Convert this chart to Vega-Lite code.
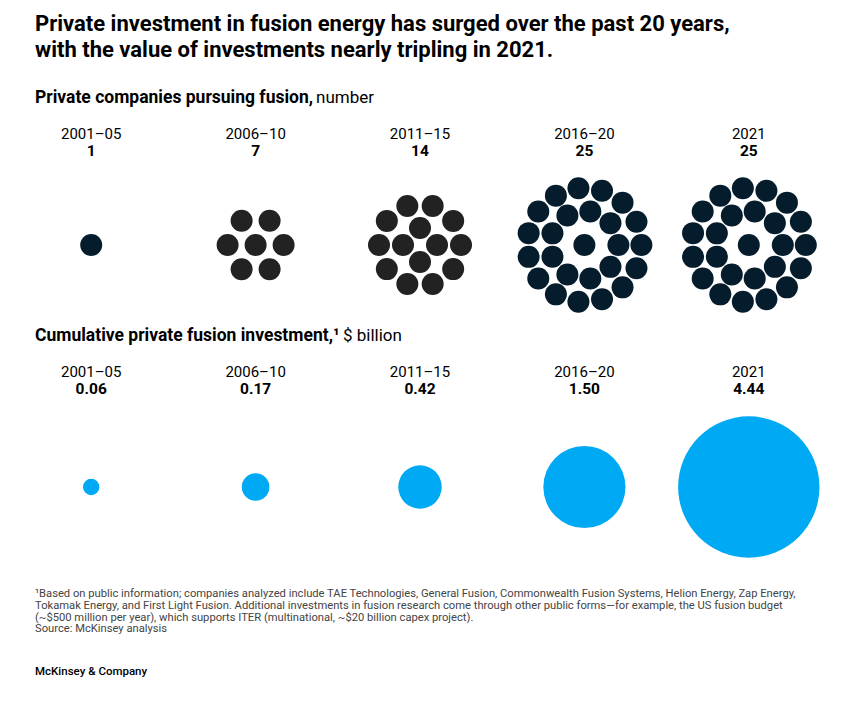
{
  "$schema": "https://vega.github.io/schema/vega-lite/v6.json",
  "background": "white",
  "padding": {"left": 9, "top": 13, "right": 0, "bottom": 0},
  "spacing": 0,
  "config": {"view": {"stroke": null}, "font": "Roboto", "concat": {"spacing": 0}},
  "title": {
    "text": ["Private investment in fusion energy has surged over the past 20 years,", "with the value of investments nearly tripling in 2021."],
    "anchor": "start", "dx": 26, "font": "Roboto", "fontSize": 22, "fontWeight": "bold", "lineHeight": 26, "color": "#000000", "offset": 19
  },
  "datasets": {
    "periods": [
      {"period": "2001–05", "companies": 1, "investment": 0.06},
      {"period": "2006–10", "companies": 7, "investment": 0.17},
      {"period": "2011–15", "companies": 14, "investment": 0.42},
      {"period": "2016–20", "companies": 25, "investment": 1.50},
      {"period": "2021", "companies": 25, "investment": 4.44}
    ],
    "dots": [
      {"period": "2001–05", "ring": 0, "slot": 0},
      {"period": "2006–10", "ring": 0, "slot": 0},
      {"period": "2006–10", "ring": 1, "slot": 0},
      {"period": "2006–10", "ring": 1, "slot": 1},
      {"period": "2006–10", "ring": 1, "slot": 2},
      {"period": "2006–10", "ring": 1, "slot": 3},
      {"period": "2006–10", "ring": 1, "slot": 4},
      {"period": "2006–10", "ring": 1, "slot": 5},
      {"period": "2011–15", "ring": 1, "slot": 0},
      {"period": "2011–15", "ring": 1, "slot": 1},
      {"period": "2011–15", "ring": 1, "slot": 2},
      {"period": "2011–15", "ring": 1, "slot": 3},
      {"period": "2011–15", "ring": 2, "slot": 0},
      {"period": "2011–15", "ring": 2, "slot": 1},
      {"period": "2011–15", "ring": 2, "slot": 2},
      {"period": "2011–15", "ring": 2, "slot": 3},
      {"period": "2011–15", "ring": 2, "slot": 4},
      {"period": "2011–15", "ring": 2, "slot": 5},
      {"period": "2011–15", "ring": 2, "slot": 6},
      {"period": "2011–15", "ring": 2, "slot": 7},
      {"period": "2011–15", "ring": 2, "slot": 8},
      {"period": "2011–15", "ring": 2, "slot": 9},
      {"period": "2016–20", "ring": 0, "slot": 0},
      {"period": "2016–20", "ring": 1, "slot": 0},
      {"period": "2016–20", "ring": 1, "slot": 1},
      {"period": "2016–20", "ring": 1, "slot": 2},
      {"period": "2016–20", "ring": 1, "slot": 3},
      {"period": "2016–20", "ring": 1, "slot": 4},
      {"period": "2016–20", "ring": 1, "slot": 5},
      {"period": "2016–20", "ring": 1, "slot": 6},
      {"period": "2016–20", "ring": 1, "slot": 7},
      {"period": "2016–20", "ring": 1, "slot": 8},
      {"period": "2016–20", "ring": 2, "slot": 0},
      {"period": "2016–20", "ring": 2, "slot": 1},
      {"period": "2016–20", "ring": 2, "slot": 2},
      {"period": "2016–20", "ring": 2, "slot": 3},
      {"period": "2016–20", "ring": 2, "slot": 4},
      {"period": "2016–20", "ring": 2, "slot": 5},
      {"period": "2016–20", "ring": 2, "slot": 6},
      {"period": "2016–20", "ring": 2, "slot": 7},
      {"period": "2016–20", "ring": 2, "slot": 8},
      {"period": "2016–20", "ring": 2, "slot": 9},
      {"period": "2016–20", "ring": 2, "slot": 10},
      {"period": "2016–20", "ring": 2, "slot": 11},
      {"period": "2016–20", "ring": 2, "slot": 12},
      {"period": "2016–20", "ring": 2, "slot": 13},
      {"period": "2016–20", "ring": 2, "slot": 14},
      {"period": "2021", "ring": 0, "slot": 0},
      {"period": "2021", "ring": 1, "slot": 0},
      {"period": "2021", "ring": 1, "slot": 1},
      {"period": "2021", "ring": 1, "slot": 2},
      {"period": "2021", "ring": 1, "slot": 3},
      {"period": "2021", "ring": 1, "slot": 4},
      {"period": "2021", "ring": 1, "slot": 5},
      {"period": "2021", "ring": 1, "slot": 6},
      {"period": "2021", "ring": 1, "slot": 7},
      {"period": "2021", "ring": 1, "slot": 8},
      {"period": "2021", "ring": 2, "slot": 0},
      {"period": "2021", "ring": 2, "slot": 1},
      {"period": "2021", "ring": 2, "slot": 2},
      {"period": "2021", "ring": 2, "slot": 3},
      {"period": "2021", "ring": 2, "slot": 4},
      {"period": "2021", "ring": 2, "slot": 5},
      {"period": "2021", "ring": 2, "slot": 6},
      {"period": "2021", "ring": 2, "slot": 7},
      {"period": "2021", "ring": 2, "slot": 8},
      {"period": "2021", "ring": 2, "slot": 9},
      {"period": "2021", "ring": 2, "slot": 10},
      {"period": "2021", "ring": 2, "slot": 11},
      {"period": "2021", "ring": 2, "slot": 12},
      {"period": "2021", "ring": 2, "slot": 13},
      {"period": "2021", "ring": 2, "slot": 14}
    ],
    "headings": [
      {"section": "companies", "lead": "Private companies pursuing fusion,", "unit": "number"},
      {"section": "investment", "lead": "Cumulative private fusion investment,¹", "unit": "$ billion"}
    ],
    "notes": [
      {"kind": "footnote", "text": "¹Based on public information; companies analyzed include TAE Technologies, General Fusion, Commonwealth Fusion Systems, Helion Energy, Zap Energy,\n\u00a0Tokamak Energy, and First Light Fusion. Additional investments in fusion research come through other public forms—for example, the US fusion budget\n\u00a0(~$500 million per year), which supports ITER (multinational, ~$20 billion capex project).\n\u00a0Source: McKinsey analysis"},
      {"kind": "brand", "text": "McKinsey & Company"}
    ]
  },
  "vconcat": [
    {
      "width": 822, "height": 36,
      "data": {"name": "headings"},
      "transform": [{"filter": "datum.section == 'companies'"}],
      "layer": [
        {"mark": {"type": "text", "align": "left", "baseline": "middle", "fontSize": 17.5, "fontWeight": "bold", "color": "#000000", "dy": -1},
         "encoding": {"x": {"value": 26}, "text": {"field": "lead"}}},
        {"mark": {"type": "text", "align": "left", "baseline": "middle", "fontSize": 17, "color": "#000000", "dy": -1, "dx": 281},
         "encoding": {"x": {"value": 26}, "text": {"field": "unit"}}}
      ]
    },
    {
      "width": 822, "height": 50,
      "data": {"name": "periods"},
      "encoding": {"x": {"field": "period", "type": "ordinal", "axis": null, "scale": {"type": "band", "domain": ["2001–05", "2006–10", "2011–15", "2016–20", "2021"], "paddingInner": 0, "paddingOuter": 0}}},
      "layer": [
        {"mark": {"type": "text", "baseline": "middle", "fontSize": 15, "color": "#000000", "dy": -8},
         "encoding": {"text": {"field": "period"}}},
        {"mark": {"type": "text", "baseline": "middle", "fontSize": 15.5, "fontWeight": "bold", "color": "#000000", "dy": 9},
         "encoding": {"text": {"field": "companies", "type": "quantitative"}}}
      ]
    },
    {
      "width": 822, "height": 156,
      "data": {"name": "dots"},
      "transform": [
        {"joinaggregate": [{"op": "count", "as": "m"}], "groupby": ["period", "ring"]},
        {"calculate": "datum.m == 1 ? 0 : datum.m == 4 ? 17 : datum.m == 6 ? 28 : datum.m == 9 ? 34 : datum.m == 10 ? 41 : 57", "as": "r"},
        {"calculate": "2 * PI * datum.slot / datum.m", "as": "a"},
        {"calculate": "datum.r * cos(datum.a)", "as": "dx"},
        {"calculate": "datum.r * sin(datum.a)", "as": "dy"}
      ],
      "mark": {"type": "circle", "size": 484, "opacity": 1},
      "encoding": {
        "x": {"field": "period", "type": "ordinal", "axis": null, "scale": {"type": "band", "domain": ["2001–05", "2006–10", "2011–15", "2016–20", "2021"], "paddingInner": 0, "paddingOuter": 0}},
        "xOffset": {"field": "dx", "type": "quantitative", "scale": {"domain": [-82.2, 82.2]}},
        "y": {"field": "dy", "type": "quantitative", "axis": null, "scale": {"domain": [-78, 78]}},
        "color": {"field": "period", "type": "nominal", "legend": null, "scale": {"domain": ["2001–05", "2006–10", "2011–15", "2016–20", "2021"], "range": ["#051c2c", "#222222", "#222222", "#051c2c", "#051c2c"]}}
      }
    },
    {
      "width": 822, "height": 32,
      "data": {"name": "headings"},
      "transform": [{"filter": "datum.section == 'investment'"}],
      "layer": [
        {"mark": {"type": "text", "align": "left", "baseline": "middle", "fontSize": 17.5, "fontWeight": "bold", "color": "#000000", "dy": -3},
         "encoding": {"x": {"value": 26}, "text": {"field": "lead"}}},
        {"mark": {"type": "text", "align": "left", "baseline": "middle", "fontSize": 17, "color": "#000000", "dy": -3, "dx": 308},
         "encoding": {"x": {"value": 26}, "text": {"field": "unit"}}}
      ]
    },
    {
      "width": 822, "height": 50,
      "data": {"name": "periods"},
      "encoding": {"x": {"field": "period", "type": "ordinal", "axis": null, "scale": {"type": "band", "domain": ["2001–05", "2006–10", "2011–15", "2016–20", "2021"], "paddingInner": 0, "paddingOuter": 0}}},
      "layer": [
        {"mark": {"type": "text", "baseline": "middle", "fontSize": 15, "color": "#000000", "dy": -8.5},
         "encoding": {"text": {"field": "period"}}},
        {"mark": {"type": "text", "baseline": "middle", "fontSize": 15.5, "fontWeight": "bold", "color": "#000000", "dy": 9},
         "encoding": {"text": {"field": "investment", "type": "quantitative", "format": ".2f"}}}
      ]
    },
    {
      "width": 822, "height": 164,
      "data": {"name": "periods"},
      "mark": {"type": "circle", "opacity": 1, "color": "#00a9f4"},
      "encoding": {
        "x": {"field": "period", "type": "ordinal", "axis": null, "scale": {"type": "band", "domain": ["2001–05", "2006–10", "2011–15", "2016–20", "2021"], "paddingInner": 0, "paddingOuter": 0}},
        "size": {"field": "investment", "type": "quantitative", "legend": null, "scale": {"type": "linear", "domain": [0, 4.44], "range": [0, 19980]}}
      }
    },
    {
      "width": 822, "height": 80,
      "data": {"name": "notes"},
      "transform": [{"filter": "datum.kind == 'footnote'"}],
      "mark": {"type": "text", "align": "left", "baseline": "middle", "fontSize": 11.2, "lineHeight": 11.8, "lineBreak": "\n", "color": "#444444", "dy": -15},
      "encoding": {"x": {"value": 26}, "text": {"field": "text"}}
    },
    {
      "width": 822, "height": 46,
      "data": {"name": "notes"},
      "transform": [{"filter": "datum.kind == 'brand'"}],
      "mark": {"type": "text", "align": "left", "baseline": "middle", "fontSize": 11.5, "fontWeight": 500, "color": "#000000"},
      "encoding": {"x": {"value": 26}, "text": {"field": "text"}}
    }
  ]
}
